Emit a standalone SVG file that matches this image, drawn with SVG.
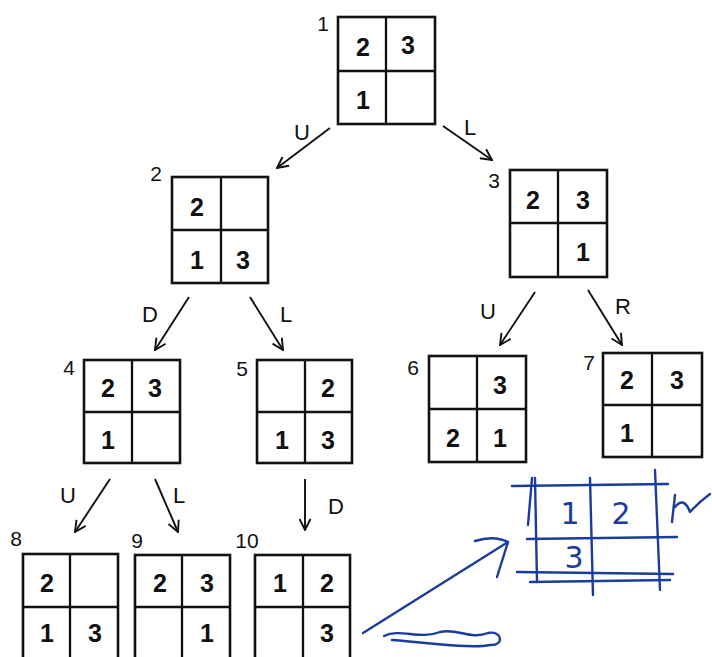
<svg xmlns="http://www.w3.org/2000/svg" width="712" height="657" viewBox="0 0 712 657">
<style>
.box{fill:none;stroke:#111;stroke-width:2.6}
.grid{stroke:#111;stroke-width:2.3}
.num{font-family:"Liberation Sans",Arial,sans-serif;font-weight:bold;font-size:25px;fill:#111;text-anchor:middle}
.lab{font-family:"Liberation Sans",Arial,sans-serif;font-size:21px;fill:#111;text-anchor:middle}
.edge{stroke:#111;stroke-width:1.9;fill:none;marker-end:url(#ah)}
.elab{font-family:"Liberation Sans",Arial,sans-serif;font-size:22px;fill:#111;text-anchor:middle}
.blue{stroke:#1b3c9c;stroke-width:2.4;fill:none;stroke-linecap:round;stroke-linejoin:round}
.btxt{font-family:"DejaVu Sans",sans-serif;font-size:30px;fill:#1b3c9c;text-anchor:middle}
</style>
<defs>
<marker id="ah" viewBox="0 0 13 13" refX="12" refY="6.5" markerWidth="13" markerHeight="13" markerUnits="userSpaceOnUse" orient="auto">
<path d="M1,1 L12,6.5 L1,12" fill="none" stroke="#111" stroke-width="1.9"/>
</marker>
</defs>
<rect width="712" height="657" fill="#fff"/>

<g id="n1">
<rect class="box" x="338" y="17" width="97" height="107"/>
<line class="grid" x1="386" y1="17" x2="386" y2="124"/><line class="grid" x1="338" y1="71" x2="435" y2="71"/>
<text class="lab" x="323" y="31">1</text>
<text class="num" x="363" y="56">2</text><text class="num" x="408" y="54">3</text><text class="num" x="363" y="109">1</text>
</g>
<g id="n2">
<rect class="box" x="172" y="177" width="96" height="106"/>
<line class="grid" x1="221" y1="177" x2="221" y2="283"/><line class="grid" x1="172" y1="230" x2="268" y2="230"/>
<text class="lab" x="156" y="181">2</text>
<text class="num" x="197" y="216">2</text><text class="num" x="197" y="269">1</text><text class="num" x="243" y="269">3</text>
</g>
<g id="n3">
<rect class="box" x="510" y="170" width="97" height="107"/>
<line class="grid" x1="558" y1="170" x2="558" y2="277"/><line class="grid" x1="510" y1="223" x2="607" y2="223"/>
<text class="lab" x="494" y="188">3</text>
<text class="num" x="533" y="209">2</text><text class="num" x="583" y="209">3</text><text class="num" x="583" y="261">1</text>
</g>
<g id="n4">
<rect class="box" x="84" y="360" width="96" height="103"/>
<line class="grid" x1="132" y1="360" x2="132" y2="463"/><line class="grid" x1="84" y1="412" x2="180" y2="412"/>
<text class="lab" x="69" y="375">4</text>
<text class="num" x="108" y="397">2</text><text class="num" x="155" y="397">3</text><text class="num" x="108" y="449">1</text>
</g>
<g id="n5">
<rect class="box" x="257" y="360" width="95" height="103"/>
<line class="grid" x1="305" y1="360" x2="305" y2="463"/><line class="grid" x1="257" y1="412" x2="352" y2="412"/>
<text class="lab" x="242" y="376">5</text>
<text class="num" x="328" y="397">2</text><text class="num" x="282" y="449">1</text><text class="num" x="328" y="449">3</text>
</g>
<g id="n6">
<rect class="box" x="429" y="356" width="97" height="106"/>
<line class="grid" x1="477" y1="356" x2="477" y2="462"/><line class="grid" x1="429" y1="409" x2="526" y2="409"/>
<text class="lab" x="413" y="375">6</text>
<text class="num" x="500" y="394">3</text><text class="num" x="453" y="447">2</text><text class="num" x="500" y="447">1</text>
</g>
<g id="n7">
<rect class="box" x="603" y="353" width="99" height="104"/>
<line class="grid" x1="652" y1="353" x2="652" y2="457"/><line class="grid" x1="603" y1="405" x2="702" y2="405"/>
<text class="lab" x="589" y="370">7</text>
<text class="num" x="627" y="389">2</text><text class="num" x="677" y="389">3</text><text class="num" x="627" y="442">1</text>
</g>
<g id="n8">
<rect class="box" x="23" y="554" width="95" height="110"/>
<line class="grid" x1="70" y1="554" x2="70" y2="664"/><line class="grid" x1="23" y1="607" x2="118" y2="607"/>
<text class="lab" x="16" y="546">8</text>
<text class="num" x="47" y="592">2</text><text class="num" x="47" y="642">1</text><text class="num" x="95" y="642">3</text>
</g>
<g id="n9">
<rect class="box" x="135" y="555" width="95" height="110"/>
<line class="grid" x1="182" y1="555" x2="182" y2="665"/><line class="grid" x1="135" y1="607" x2="230" y2="607"/>
<text class="lab" x="137" y="548">9</text>
<text class="num" x="160" y="592">2</text><text class="num" x="207" y="592">3</text><text class="num" x="207" y="642">1</text>
</g>
<g id="n10">
<rect class="box" x="255" y="555" width="95" height="110"/>
<line class="grid" x1="303" y1="555" x2="303" y2="665"/><line class="grid" x1="255" y1="607" x2="350" y2="607"/>
<text class="lab" x="247" y="548">10</text>
<text class="num" x="280" y="592">1</text><text class="num" x="327" y="592">2</text><text class="num" x="327" y="642">3</text>
</g>

<g id="connectors">
<line class="edge" x1="330" y1="128" x2="277" y2="168"/>
<line class="edge" x1="443" y1="126" x2="492" y2="160"/>
<line class="edge" x1="189" y1="297" x2="155" y2="350"/>
<line class="edge" x1="250" y1="297" x2="283" y2="350"/>
<line class="edge" x1="535" y1="292" x2="500" y2="345"/>
<line class="edge" x1="588" y1="290" x2="622" y2="345"/>
<line class="edge" x1="110" y1="479" x2="75" y2="532"/>
<line class="edge" x1="155" y1="479" x2="178" y2="532"/>
<line class="edge" x1="305" y1="479" x2="305" y2="530"/>
<text class="elab" x="302" y="140">U</text>
<text class="elab" x="470" y="135">L</text>
<text class="elab" x="150" y="322">D</text>
<text class="elab" x="286" y="322">L</text>
<text class="elab" x="488" y="319">U</text>
<text class="elab" x="623" y="314">R</text>
<text class="elab" x="68" y="503">U</text>
<text class="elab" x="179" y="503">L</text>
<text class="elab" x="336" y="514">D</text>
</g>

<g id="handwritten">
<path class="blue" d="M512,486 L668,484 M527,539 L677,537 M517,572 L673,574 M530,582 L670,580"/>
<path class="blue" d="M535,478 L537,582 M590,478 L593,595 M655,470 L660,590 M532,478 L528,525"/>
<text class="btxt" x="570" y="524">1</text>
<text class="btxt" x="621" y="524">2</text>
<text class="btxt" x="574" y="568">3</text>
<path class="blue" d="M672,522 L675,495 M675,507 Q684,496 690,512 Q699,502 710,494"/>
<path class="blue" d="M363,633 L508,542 M475,541 Q494,535 508,542 L497,577"/>
<path class="blue" stroke-width="3" d="M384,636 C400,628 420,640 440,632 C458,628 470,640 488,633 C502,630 505,646 490,645 C470,649 420,642 392,640"/>
</g>
</svg>
